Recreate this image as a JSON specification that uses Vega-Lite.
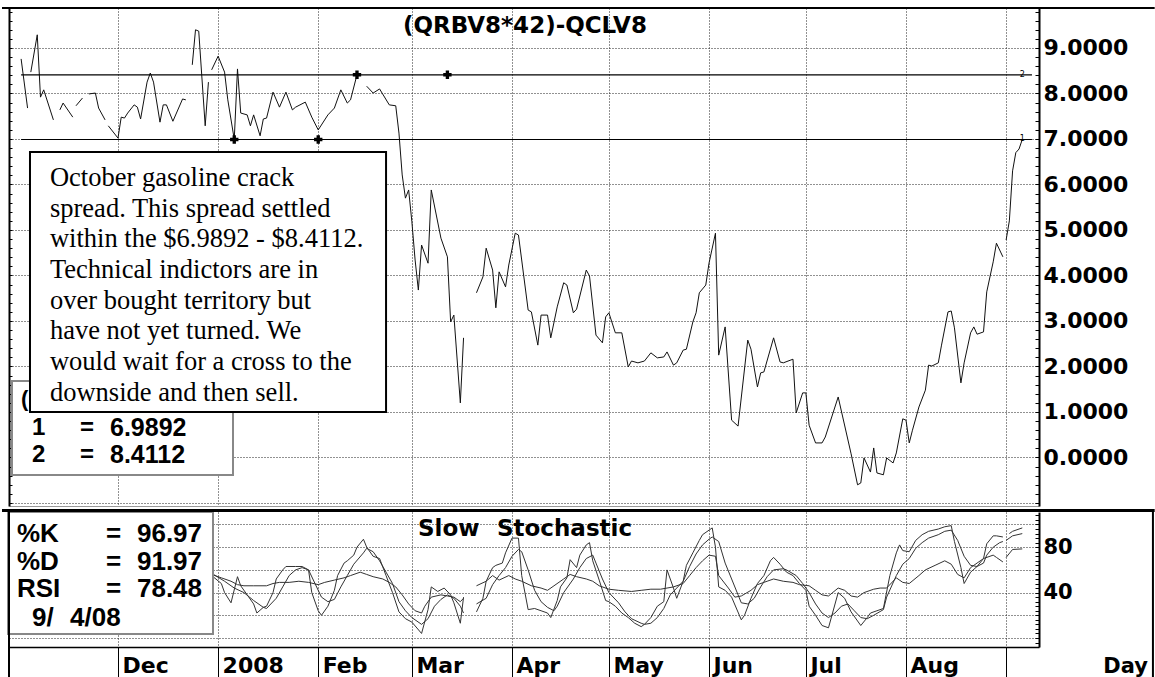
{
"$schema": "https://vega.github.io/schema/vega-lite/v6.json",
"background": "white",
"padding": {"left": 0, "top": 7, "right": 0, "bottom": 0},
"spacing": 3,
"config": {"view": {"stroke": null}, "axis": {"gridColor": "#222", "gridDash": [1, 2], "gridWidth": 1}},
"datasets": {
"price": [
{"d":"2007-11-01","v":8.76,"g":1},{"d":"2007-11-03","v":7.68,"g":1},
{"d":"2007-11-04","v":8.47,"g":2},{"d":"2007-11-06","v":9.29,"g":2},{"d":"2007-11-07","v":7.92,"g":2},{"d":"2007-11-08","v":8.08,"g":2},{"d":"2007-11-11","v":7.42,"g":2},
{"d":"2007-11-13","v":7.64,"g":3},{"d":"2007-11-14","v":7.79,"g":3},{"d":"2007-11-17","v":7.48,"g":3},
{"d":"2007-11-18","v":7.73,"g":4},{"d":"2007-11-20","v":7.9,"g":4},
{"d":"2007-11-22","v":7.99,"g":5},{"d":"2007-11-24","v":8.01,"g":5},{"d":"2007-11-25","v":7.68,"g":5},{"d":"2007-11-27","v":7.42,"g":5},
{"d":"2007-11-28","v":7.29,"g":6},{"d":"2007-12-01","v":7.02,"g":6},{"d":"2007-12-02","v":7.48,"g":6},{"d":"2007-12-03","v":7.46,"g":6},{"d":"2007-12-04","v":7.57,"g":6},{"d":"2007-12-06","v":7.75,"g":6},{"d":"2007-12-07","v":7.7,"g":6},{"d":"2007-12-08","v":7.44,"g":6},{"d":"2007-12-10","v":8.25,"g":6},{"d":"2007-12-11","v":8.45,"g":6},{"d":"2007-12-12","v":8.25,"g":6},{"d":"2007-12-14","v":7.37,"g":6},{"d":"2007-12-15","v":7.75,"g":6},{"d":"2007-12-16","v":7.75,"g":6},{"d":"2007-12-18","v":7.39,"g":6},{"d":"2007-12-21","v":7.88,"g":6},{"d":"2007-12-22","v":7.86,"g":6},
{"d":"2007-12-24","v":8.63,"g":7},{"d":"2007-12-25","v":9.4,"g":7},{"d":"2007-12-26","v":9.37,"g":7},{"d":"2007-12-28","v":7.29,"g":7},{"d":"2007-12-29","v":8.25,"g":7},
{"d":"2007-12-30","v":8.52,"g":8},{"d":"2008-01-01","v":8.82,"g":8},{"d":"2008-01-03","v":8.47,"g":8},{"d":"2008-01-04","v":7.86,"g":8},{"d":"2008-01-06","v":6.99,"g":8},{"d":"2008-01-07","v":8.54,"g":8},{"d":"2008-01-08","v":7.57,"g":8},{"d":"2008-01-10","v":7.53,"g":8},{"d":"2008-01-11","v":7.29,"g":8},{"d":"2008-01-12","v":7.53,"g":8},{"d":"2008-01-14","v":7.07,"g":8},{"d":"2008-01-15","v":7.44,"g":8},{"d":"2008-01-16","v":7.46,"g":8},{"d":"2008-01-18","v":8.03,"g":8},{"d":"2008-01-20","v":7.7,"g":8},{"d":"2008-01-22","v":8.03,"g":8},{"d":"2008-01-24","v":7.64,"g":8},{"d":"2008-01-25","v":7.7,"g":8},{"d":"2008-01-28","v":7.81,"g":8},{"d":"2008-01-30","v":7.48,"g":8},{"d":"2008-02-01","v":7.2,"g":8},{"d":"2008-02-04","v":7.53,"g":8},{"d":"2008-02-06","v":7.68,"g":8},{"d":"2008-02-08","v":8.08,"g":8},{"d":"2008-02-10","v":7.79,"g":8},{"d":"2008-02-11","v":7.86,"g":8},{"d":"2008-02-13","v":8.41,"g":8},
{"d":"2008-02-16","v":8.16,"g":9},{"d":"2008-02-18","v":8.01,"g":9},{"d":"2008-02-20","v":8.1,"g":9},{"d":"2008-02-23","v":7.75,"g":9},{"d":"2008-02-25","v":7.73,"g":9},{"d":"2008-02-26","v":7.13,"g":9},{"d":"2008-02-27","v":6.21,"g":9},{"d":"2008-02-28","v":5.7,"g":9},{"d":"2008-02-29","v":5.88,"g":9},{"d":"2008-03-01","v":5.18,"g":9},{"d":"2008-03-02","v":4.34,"g":9},{"d":"2008-03-03","v":3.68,"g":9},{"d":"2008-03-04","v":4.67,"g":9},{"d":"2008-03-06","v":4.27,"g":9},{"d":"2008-03-07","v":5.88,"g":9},{"d":"2008-03-10","v":4.82,"g":9},{"d":"2008-03-12","v":4.41,"g":9},{"d":"2008-03-13","v":2.98,"g":9},{"d":"2008-03-14","v":3.13,"g":9},{"d":"2008-03-16","v":1.2,"g":9},{"d":"2008-03-17","v":2.63,"g":9},
{"d":"2008-03-21","v":3.62,"g":10},{"d":"2008-03-23","v":3.97,"g":10},{"d":"2008-03-24","v":4.6,"g":10},{"d":"2008-03-26","v":4.12,"g":10},{"d":"2008-03-27","v":3.29,"g":10},{"d":"2008-03-28","v":4.08,"g":10},{"d":"2008-03-30","v":3.75,"g":10},{"d":"2008-03-31","v":4.23,"g":10},{"d":"2008-04-02","v":4.93,"g":10},{"d":"2008-04-03","v":4.89,"g":10},{"d":"2008-04-06","v":3.24,"g":10},{"d":"2008-04-07","v":3.2,"g":10},{"d":"2008-04-09","v":2.47,"g":10},{"d":"2008-04-10","v":3.13,"g":10},{"d":"2008-04-12","v":3.13,"g":10},{"d":"2008-04-13","v":2.63,"g":10},{"d":"2008-04-15","v":3.31,"g":10},{"d":"2008-04-17","v":3.84,"g":10},{"d":"2008-04-18","v":3.79,"g":10},{"d":"2008-04-20","v":3.18,"g":10},{"d":"2008-04-21","v":3.26,"g":10},{"d":"2008-04-24","v":4.12,"g":10},{"d":"2008-04-25","v":3.99,"g":10},{"d":"2008-04-27","v":2.69,"g":10},{"d":"2008-04-29","v":2.52,"g":10},{"d":"2008-04-30","v":3.09,"g":10},{"d":"2008-05-01","v":3.18,"g":10},{"d":"2008-05-03","v":2.74,"g":10},{"d":"2008-05-05","v":2.74,"g":10},{"d":"2008-05-07","v":1.99,"g":10},{"d":"2008-05-08","v":2.12,"g":10},{"d":"2008-05-10","v":2.08,"g":10},{"d":"2008-05-12","v":2.12,"g":10},{"d":"2008-05-14","v":2.3,"g":10},{"d":"2008-05-16","v":2.19,"g":10},{"d":"2008-05-18","v":2.21,"g":10},{"d":"2008-05-19","v":2.32,"g":10},{"d":"2008-05-21","v":2.03,"g":10},{"d":"2008-05-22","v":2.08,"g":10},{"d":"2008-05-24","v":2.36,"g":10},{"d":"2008-05-25","v":2.38,"g":10},{"d":"2008-05-27","v":2.98,"g":10},{"d":"2008-05-28","v":3.18,"g":10},{"d":"2008-05-29","v":3.62,"g":10},{"d":"2008-05-31","v":3.79,"g":10},{"d":"2008-06-01","v":4.27,"g":10},{"d":"2008-06-03","v":4.93,"g":10},{"d":"2008-06-04","v":2.25,"g":10},{"d":"2008-06-06","v":2.87,"g":10},{"d":"2008-06-08","v":0.82,"g":10},{"d":"2008-06-10","v":0.69,"g":10},{"d":"2008-06-13","v":2.58,"g":10},{"d":"2008-06-14","v":2.38,"g":10},{"d":"2008-06-16","v":1.55,"g":10},{"d":"2008-06-17","v":1.86,"g":10},{"d":"2008-06-18","v":1.88,"g":10},{"d":"2008-06-21","v":2.63,"g":10},{"d":"2008-06-23","v":2.1,"g":10},{"d":"2008-06-24","v":2.08,"g":10},{"d":"2008-06-27","v":2.16,"g":10},{"d":"2008-06-28","v":0.98,"g":10},{"d":"2008-06-30","v":1.42,"g":10},{"d":"2008-07-01","v":1.42,"g":10},{"d":"2008-07-02","v":0.71,"g":10},{"d":"2008-07-04","v":0.32,"g":10},{"d":"2008-07-06","v":0.32,"g":10},{"d":"2008-07-07","v":0.45,"g":10},{"d":"2008-07-11","v":1.33,"g":10},{"d":"2008-07-15","v":0.08,"g":10},{"d":"2008-07-17","v":-0.6,"g":10},{"d":"2008-07-18","v":-0.56,"g":10},{"d":"2008-07-19","v":-0.01,"g":10},{"d":"2008-07-21","v":-0.32,"g":10},{"d":"2008-07-22","v":0.21,"g":10},{"d":"2008-07-23","v":-0.34,"g":10},{"d":"2008-07-25","v":-0.38,"g":10},{"d":"2008-07-26","v":-0.01,"g":10},{"d":"2008-07-28","v":-0.12,"g":10},{"d":"2008-07-29","v":0.1,"g":10},{"d":"2008-07-31","v":0.85,"g":10},{"d":"2008-08-01","v":0.82,"g":10},{"d":"2008-08-02","v":0.32,"g":10},{"d":"2008-08-03","v":0.6,"g":10},{"d":"2008-08-05","v":1.11,"g":10},{"d":"2008-08-07","v":1.48,"g":10},{"d":"2008-08-08","v":2.03,"g":10},{"d":"2008-08-09","v":2.01,"g":10},{"d":"2008-08-11","v":2.08,"g":10},{"d":"2008-08-12","v":2.47,"g":10},{"d":"2008-08-14","v":3.2,"g":10},{"d":"2008-08-15","v":3.22,"g":10},{"d":"2008-08-16","v":2.85,"g":10},{"d":"2008-08-18","v":1.64,"g":10},{"d":"2008-08-19","v":2.08,"g":10},{"d":"2008-08-21","v":2.74,"g":10},{"d":"2008-08-22","v":2.87,"g":10},{"d":"2008-08-23","v":2.71,"g":10},{"d":"2008-08-25","v":2.76,"g":10},{"d":"2008-08-26","v":3.64,"g":10},{"d":"2008-08-28","v":4.3,"g":10},{"d":"2008-08-29","v":4.71,"g":10},{"d":"2008-08-31","v":4.41,"g":10},
{"d":"2008-09-01","v":4.78,"g":11},{"d":"2008-09-02","v":5.2,"g":11},{"d":"2008-09-03","v":6.3,"g":11},{"d":"2008-09-04","v":6.7,"g":11},{"d":"2008-09-05","v":6.78,"g":11},{"d":"2008-09-06","v":6.99,"g":11}
],
"stoch": [
{"d":"2007-12-30","s":"K","v":55,"g":1},{"d":"2008-01-02","s":"K","v":48,"g":1},{"d":"2008-01-03","s":"K","v":40,"g":1},{"d":"2008-01-05","s":"K","v":31,"g":1},{"d":"2008-01-07","s":"K","v":54,"g":1},{"d":"2008-01-08","s":"K","v":46,"g":1},{"d":"2008-01-10","s":"K","v":38,"g":1},{"d":"2008-01-12","s":"K","v":30,"g":1},{"d":"2008-01-13","s":"K","v":22,"g":1},{"d":"2008-01-15","s":"K","v":27,"g":1},{"d":"2008-01-16","s":"K","v":28,"g":1},{"d":"2008-01-18","s":"K","v":40,"g":1},{"d":"2008-01-19","s":"K","v":52,"g":1},{"d":"2008-01-21","s":"K","v":60,"g":1},{"d":"2008-01-22","s":"K","v":63,"g":1},{"d":"2008-01-25","s":"K","v":63,"g":1},{"d":"2008-01-27","s":"K","v":63,"g":1},{"d":"2008-01-29","s":"K","v":60,"g":1},{"d":"2008-01-30","s":"K","v":40,"g":1},{"d":"2008-02-01","s":"K","v":24,"g":1},{"d":"2008-02-02","s":"K","v":20,"g":1},{"d":"2008-02-04","s":"K","v":28,"g":1},{"d":"2008-02-06","s":"K","v":42,"g":1},{"d":"2008-02-07","s":"K","v":55,"g":1},{"d":"2008-02-09","s":"K","v":66,"g":1},{"d":"2008-02-10","s":"K","v":68,"g":1},{"d":"2008-02-12","s":"K","v":73,"g":1},{"d":"2008-02-13","s":"K","v":80,"g":1},{"d":"2008-02-15","s":"K","v":87,"g":1},{"d":"2008-02-16","s":"K","v":80,"g":1},{"d":"2008-02-18","s":"K","v":72,"g":1},{"d":"2008-02-20","s":"K","v":70,"g":1},{"d":"2008-02-22","s":"K","v":55,"g":1},{"d":"2008-02-24","s":"K","v":40,"g":1},{"d":"2008-02-26","s":"K","v":23,"g":1},{"d":"2008-02-28","s":"K","v":17,"g":1},{"d":"2008-03-01","s":"K","v":14,"g":1},{"d":"2008-03-04","s":"K","v":4,"g":1},{"d":"2008-03-06","s":"K","v":25,"g":1},{"d":"2008-03-07","s":"K","v":45,"g":1},{"d":"2008-03-09","s":"K","v":41,"g":1},{"d":"2008-03-11","s":"K","v":44,"g":1},{"d":"2008-03-13","s":"K","v":38,"g":1},{"d":"2008-03-14","s":"K","v":31,"g":1},{"d":"2008-03-16","s":"K","v":13,"g":1},{"d":"2008-03-17","s":"K","v":36,"g":1},
{"d":"2008-03-21","s":"K","v":23,"g":2},{"d":"2008-03-23","s":"K","v":35,"g":2},{"d":"2008-03-24","s":"K","v":50,"g":2},{"d":"2008-03-26","s":"K","v":62,"g":2},{"d":"2008-03-27","s":"K","v":64,"g":2},{"d":"2008-03-29","s":"K","v":66,"g":2},{"d":"2008-03-30","s":"K","v":75,"g":2},{"d":"2008-04-01","s":"K","v":88,"g":2},{"d":"2008-04-03","s":"K","v":88,"g":2},{"d":"2008-04-04","s":"K","v":55,"g":2},{"d":"2008-04-06","s":"K","v":25,"g":2},{"d":"2008-04-08","s":"K","v":26,"g":2},{"d":"2008-04-10","s":"K","v":24,"g":2},{"d":"2008-04-12","s":"K","v":22,"g":2},{"d":"2008-04-13","s":"K","v":18,"g":2},{"d":"2008-04-15","s":"K","v":33,"g":2},{"d":"2008-04-16","s":"K","v":45,"g":2},{"d":"2008-04-18","s":"K","v":53,"g":2},{"d":"2008-04-19","s":"K","v":69,"g":2},{"d":"2008-04-21","s":"K","v":62,"g":2},{"d":"2008-04-22","s":"K","v":73,"g":2},{"d":"2008-04-24","s":"K","v":82,"g":2},{"d":"2008-04-25","s":"K","v":84,"g":2},{"d":"2008-04-26","s":"K","v":68,"g":2},{"d":"2008-04-28","s":"K","v":51,"g":2},{"d":"2008-04-30","s":"K","v":33,"g":2},{"d":"2008-05-01","s":"K","v":32,"g":2},{"d":"2008-05-03","s":"K","v":28,"g":2},{"d":"2008-05-05","s":"K","v":22,"g":2},{"d":"2008-05-07","s":"K","v":18,"g":2},{"d":"2008-05-09","s":"K","v":13,"g":2},{"d":"2008-05-11","s":"K","v":10,"g":2},{"d":"2008-05-12","s":"K","v":12,"g":2},{"d":"2008-05-14","s":"K","v":18,"g":2},{"d":"2008-05-16","s":"K","v":28,"g":2},{"d":"2008-05-18","s":"K","v":32,"g":2},{"d":"2008-05-19","s":"K","v":60,"g":2},{"d":"2008-05-21","s":"K","v":44,"g":2},{"d":"2008-05-22","s":"K","v":35,"g":2},{"d":"2008-05-24","s":"K","v":50,"g":2},{"d":"2008-05-25","s":"K","v":64,"g":2},{"d":"2008-05-27","s":"K","v":75,"g":2},{"d":"2008-05-29","s":"K","v":86,"g":2},{"d":"2008-05-30","s":"K","v":91,"g":2},{"d":"2008-06-01","s":"K","v":95,"g":2},{"d":"2008-06-02","s":"K","v":97,"g":2},{"d":"2008-06-03","s":"K","v":80,"g":2},{"d":"2008-06-04","s":"K","v":45,"g":2},{"d":"2008-06-06","s":"K","v":42,"g":2},{"d":"2008-06-08","s":"K","v":36,"g":2},{"d":"2008-06-11","s":"K","v":16,"g":2},{"d":"2008-06-12","s":"K","v":20,"g":2},{"d":"2008-06-14","s":"K","v":35,"g":2},{"d":"2008-06-16","s":"K","v":48,"g":2},{"d":"2008-06-18","s":"K","v":55,"g":2},{"d":"2008-06-20","s":"K","v":68,"g":2},{"d":"2008-06-21","s":"K","v":71,"g":2},{"d":"2008-06-23","s":"K","v":65,"g":2},{"d":"2008-06-25","s":"K","v":58,"g":2},{"d":"2008-06-27","s":"K","v":55,"g":2},{"d":"2008-06-29","s":"K","v":48,"g":2},{"d":"2008-07-01","s":"K","v":42,"g":2},{"d":"2008-07-02","s":"K","v":28,"g":2},{"d":"2008-07-04","s":"K","v":20,"g":2},{"d":"2008-07-06","s":"K","v":11,"g":2},{"d":"2008-07-08","s":"K","v":9,"g":2},{"d":"2008-07-11","s":"K","v":40,"g":2},{"d":"2008-07-13","s":"K","v":35,"g":2},{"d":"2008-07-15","s":"K","v":23,"g":2},{"d":"2008-07-17","s":"K","v":15,"g":2},{"d":"2008-07-18","s":"K","v":11,"g":2},{"d":"2008-07-20","s":"K","v":18,"g":2},{"d":"2008-07-21","s":"K","v":22,"g":2},{"d":"2008-07-23","s":"K","v":24,"g":2},{"d":"2008-07-25","s":"K","v":26,"g":2},{"d":"2008-07-27","s":"K","v":55,"g":2},{"d":"2008-07-29","s":"K","v":75,"g":2},{"d":"2008-07-30","s":"K","v":82,"g":2},{"d":"2008-07-31","s":"K","v":77,"g":2},{"d":"2008-08-02","s":"K","v":76,"g":2},{"d":"2008-08-04","s":"K","v":86,"g":2},{"d":"2008-08-06","s":"K","v":91,"g":2},{"d":"2008-08-08","s":"K","v":94,"g":2},{"d":"2008-08-11","s":"K","v":96,"g":2},{"d":"2008-08-13","s":"K","v":98,"g":2},{"d":"2008-08-15","s":"K","v":99,"g":2},{"d":"2008-08-16","s":"K","v":85,"g":2},{"d":"2008-08-18","s":"K","v":62,"g":2},{"d":"2008-08-19","s":"K","v":48,"g":2},{"d":"2008-08-21","s":"K","v":58,"g":2},{"d":"2008-08-23","s":"K","v":63,"g":2},{"d":"2008-08-25","s":"K","v":70,"g":2},{"d":"2008-08-26","s":"K","v":83,"g":2},{"d":"2008-08-28","s":"K","v":90,"g":2},{"d":"2008-08-29","s":"K","v":90,"g":2},{"d":"2008-08-31","s":"K","v":89,"g":2},
{"d":"2008-09-02","s":"K","v":92,"g":3},{"d":"2008-09-03","s":"K","v":94,"g":3},{"d":"2008-09-05","s":"K","v":96,"g":3},{"d":"2008-09-06","s":"K","v":96.97,"g":3},
{"d":"2007-12-30","s":"D","v":57,"g":1},{"d":"2008-01-03","s":"D","v":50,"g":1},{"d":"2008-01-06","s":"D","v":44,"g":1},{"d":"2008-01-09","s":"D","v":40,"g":1},{"d":"2008-01-12","s":"D","v":33,"g":1},{"d":"2008-01-15","s":"D","v":27,"g":1},{"d":"2008-01-16","s":"D","v":26,"g":1},{"d":"2008-01-19","s":"D","v":35,"g":1},{"d":"2008-01-21","s":"D","v":45,"g":1},{"d":"2008-01-23","s":"D","v":55,"g":1},{"d":"2008-01-25","s":"D","v":60,"g":1},{"d":"2008-01-27","s":"D","v":62,"g":1},{"d":"2008-01-29","s":"D","v":60,"g":1},{"d":"2008-01-31","s":"D","v":48,"g":1},{"d":"2008-02-02","s":"D","v":36,"g":1},{"d":"2008-02-04","s":"D","v":32,"g":1},{"d":"2008-02-06","s":"D","v":34,"g":1},{"d":"2008-02-08","s":"D","v":45,"g":1},{"d":"2008-02-10","s":"D","v":55,"g":1},{"d":"2008-02-12","s":"D","v":65,"g":1},{"d":"2008-02-15","s":"D","v":75,"g":1},{"d":"2008-02-16","s":"D","v":79,"g":1},{"d":"2008-02-18","s":"D","v":76,"g":1},{"d":"2008-02-20","s":"D","v":68,"g":1},{"d":"2008-02-22","s":"D","v":58,"g":1},{"d":"2008-02-24","s":"D","v":48,"g":1},{"d":"2008-02-26","s":"D","v":32,"g":1},{"d":"2008-02-28","s":"D","v":24,"g":1},{"d":"2008-03-01","s":"D","v":18,"g":1},{"d":"2008-03-04","s":"D","v":12,"g":1},{"d":"2008-03-06","s":"D","v":17,"g":1},{"d":"2008-03-08","s":"D","v":28,"g":1},{"d":"2008-03-10","s":"D","v":34,"g":1},{"d":"2008-03-12","s":"D","v":38,"g":1},{"d":"2008-03-14","s":"D","v":35,"g":1},{"d":"2008-03-16","s":"D","v":28,"g":1},{"d":"2008-03-17","s":"D","v":22,"g":1},
{"d":"2008-03-21","s":"D","v":30,"g":2},{"d":"2008-03-24","s":"D","v":35,"g":2},{"d":"2008-03-26","s":"D","v":47,"g":2},{"d":"2008-03-28","s":"D","v":55,"g":2},{"d":"2008-03-30","s":"D","v":62,"g":2},{"d":"2008-04-01","s":"D","v":72,"g":2},{"d":"2008-04-03","s":"D","v":78,"g":2},{"d":"2008-04-04","s":"D","v":76,"g":2},{"d":"2008-04-06","s":"D","v":60,"g":2},{"d":"2008-04-08","s":"D","v":42,"g":2},{"d":"2008-04-10","s":"D","v":32,"g":2},{"d":"2008-04-12","s":"D","v":27,"g":2},{"d":"2008-04-14","s":"D","v":24,"g":2},{"d":"2008-04-15","s":"D","v":28,"g":2},{"d":"2008-04-17","s":"D","v":40,"g":2},{"d":"2008-04-20","s":"D","v":52,"g":2},{"d":"2008-04-22","s":"D","v":62,"g":2},{"d":"2008-04-24","s":"D","v":70,"g":2},{"d":"2008-04-26","s":"D","v":73,"g":2},{"d":"2008-04-27","s":"D","v":66,"g":2},{"d":"2008-04-29","s":"D","v":52,"g":2},{"d":"2008-05-01","s":"D","v":40,"g":2},{"d":"2008-05-04","s":"D","v":31,"g":2},{"d":"2008-05-06","s":"D","v":23,"g":2},{"d":"2008-05-08","s":"D","v":17,"g":2},{"d":"2008-05-11","s":"D","v":13,"g":2},{"d":"2008-05-12","s":"D","v":12,"g":2},{"d":"2008-05-14","s":"D","v":13,"g":2},{"d":"2008-05-16","s":"D","v":18,"g":2},{"d":"2008-05-18","s":"D","v":26,"g":2},{"d":"2008-05-20","s":"D","v":38,"g":2},{"d":"2008-05-22","s":"D","v":44,"g":2},{"d":"2008-05-24","s":"D","v":50,"g":2},{"d":"2008-05-26","s":"D","v":63,"g":2},{"d":"2008-05-28","s":"D","v":74,"g":2},{"d":"2008-05-30","s":"D","v":82,"g":2},{"d":"2008-06-01","s":"D","v":87,"g":2},{"d":"2008-06-02","s":"D","v":89,"g":2},{"d":"2008-06-04","s":"D","v":85,"g":2},{"d":"2008-06-06","s":"D","v":66,"g":2},{"d":"2008-06-08","s":"D","v":52,"g":2},{"d":"2008-06-10","s":"D","v":38,"g":2},{"d":"2008-06-11","s":"D","v":31,"g":2},{"d":"2008-06-13","s":"D","v":30,"g":2},{"d":"2008-06-15","s":"D","v":35,"g":2},{"d":"2008-06-17","s":"D","v":45,"g":2},{"d":"2008-06-19","s":"D","v":54,"g":2},{"d":"2008-06-21","s":"D","v":60,"g":2},{"d":"2008-06-24","s":"D","v":61,"g":2},{"d":"2008-06-25","s":"D","v":60,"g":2},{"d":"2008-06-28","s":"D","v":55,"g":2},{"d":"2008-06-30","s":"D","v":48,"g":2},{"d":"2008-07-02","s":"D","v":40,"g":2},{"d":"2008-07-04","s":"D","v":30,"g":2},{"d":"2008-07-06","s":"D","v":22,"g":2},{"d":"2008-07-08","s":"D","v":18,"g":2},{"d":"2008-07-10","s":"D","v":22,"g":2},{"d":"2008-07-12","s":"D","v":28,"g":2},{"d":"2008-07-14","s":"D","v":30,"g":2},{"d":"2008-07-16","s":"D","v":24,"g":2},{"d":"2008-07-18","s":"D","v":18,"g":2},{"d":"2008-07-20","s":"D","v":17,"g":2},{"d":"2008-07-22","s":"D","v":20,"g":2},{"d":"2008-07-25","s":"D","v":25,"g":2},{"d":"2008-07-26","s":"D","v":36,"g":2},{"d":"2008-07-29","s":"D","v":55,"g":2},{"d":"2008-07-31","s":"D","v":65,"g":2},{"d":"2008-08-02","s":"D","v":70,"g":2},{"d":"2008-08-04","s":"D","v":79,"g":2},{"d":"2008-08-06","s":"D","v":84,"g":2},{"d":"2008-08-08","s":"D","v":88,"g":2},{"d":"2008-08-11","s":"D","v":91,"g":2},{"d":"2008-08-13","s":"D","v":94,"g":2},{"d":"2008-08-15","s":"D","v":95,"g":2},{"d":"2008-08-17","s":"D","v":86,"g":2},{"d":"2008-08-19","s":"D","v":72,"g":2},{"d":"2008-08-21","s":"D","v":64,"g":2},{"d":"2008-08-23","s":"D","v":63,"g":2},{"d":"2008-08-25","s":"D","v":66,"g":2},{"d":"2008-08-26","s":"D","v":73,"g":2},{"d":"2008-08-28","s":"D","v":80,"g":2},{"d":"2008-08-30","s":"D","v":84,"g":2},{"d":"2008-08-31","s":"D","v":85,"g":2},
{"d":"2008-09-01","s":"D","v":86,"g":3},{"d":"2008-09-03","s":"D","v":90,"g":3},{"d":"2008-09-06","s":"D","v":91.97,"g":3},
{"d":"2007-12-30","s":"R","v":56,"g":1},{"d":"2008-01-02","s":"R","v":53,"g":1},{"d":"2008-01-05","s":"R","v":50,"g":1},{"d":"2008-01-07","s":"R","v":47,"g":1},{"d":"2008-01-09","s":"R","v":46,"g":1},{"d":"2008-01-12","s":"R","v":46,"g":1},{"d":"2008-01-16","s":"R","v":46,"g":1},{"d":"2008-01-18","s":"R","v":48,"g":1},{"d":"2008-01-20","s":"R","v":49,"g":1},{"d":"2008-01-23","s":"R","v":49,"g":1},{"d":"2008-01-26","s":"R","v":50,"g":1},{"d":"2008-01-29","s":"R","v":49,"g":1},{"d":"2008-02-01","s":"R","v":47,"g":1},{"d":"2008-02-03","s":"R","v":49,"g":1},{"d":"2008-02-06","s":"R","v":51,"g":1},{"d":"2008-02-09","s":"R","v":53,"g":1},{"d":"2008-02-11","s":"R","v":55,"g":1},{"d":"2008-02-14","s":"R","v":58,"g":1},{"d":"2008-02-16","s":"R","v":56,"g":1},{"d":"2008-02-18","s":"R","v":54,"g":1},{"d":"2008-02-21","s":"R","v":52,"g":1},{"d":"2008-02-23","s":"R","v":49,"g":1},{"d":"2008-02-25","s":"R","v":45,"g":1},{"d":"2008-02-27","s":"R","v":38,"g":1},{"d":"2008-02-29","s":"R","v":30,"g":1},{"d":"2008-03-02","s":"R","v":24,"g":1},{"d":"2008-03-04","s":"R","v":22,"g":1},{"d":"2008-03-05","s":"R","v":28,"g":1},{"d":"2008-03-07","s":"R","v":36,"g":1},{"d":"2008-03-10","s":"R","v":38,"g":1},{"d":"2008-03-12","s":"R","v":37,"g":1},{"d":"2008-03-14","s":"R","v":36,"g":1},{"d":"2008-03-16","s":"R","v":32,"g":1},{"d":"2008-03-17","s":"R","v":35,"g":1},
{"d":"2008-03-21","s":"R","v":46,"g":2},{"d":"2008-03-24","s":"R","v":50,"g":2},{"d":"2008-03-26","s":"R","v":55,"g":2},{"d":"2008-03-28","s":"R","v":51,"g":2},{"d":"2008-03-31","s":"R","v":55,"g":2},{"d":"2008-04-02","s":"R","v":52,"g":2},{"d":"2008-04-04","s":"R","v":50,"g":2},{"d":"2008-04-07","s":"R","v":46,"g":2},{"d":"2008-04-10","s":"R","v":44,"g":2},{"d":"2008-04-12","s":"R","v":42,"g":2},{"d":"2008-04-14","s":"R","v":46,"g":2},{"d":"2008-04-17","s":"R","v":52,"g":2},{"d":"2008-04-19","s":"R","v":56,"g":2},{"d":"2008-04-21","s":"R","v":54,"g":2},{"d":"2008-04-24","s":"R","v":52,"g":2},{"d":"2008-04-26","s":"R","v":50,"g":2},{"d":"2008-04-28","s":"R","v":46,"g":2},{"d":"2008-05-01","s":"R","v":43,"g":2},{"d":"2008-05-04","s":"R","v":42,"g":2},{"d":"2008-05-08","s":"R","v":41,"g":2},{"d":"2008-05-11","s":"R","v":42,"g":2},{"d":"2008-05-14","s":"R","v":43,"g":2},{"d":"2008-05-17","s":"R","v":43,"g":2},{"d":"2008-05-19","s":"R","v":44,"g":2},{"d":"2008-05-21","s":"R","v":45,"g":2},{"d":"2008-05-24","s":"R","v":48,"g":2},{"d":"2008-05-26","s":"R","v":55,"g":2},{"d":"2008-05-28","s":"R","v":62,"g":2},{"d":"2008-05-30","s":"R","v":68,"g":2},{"d":"2008-06-01","s":"R","v":73,"g":2},{"d":"2008-06-03","s":"R","v":72,"g":2},{"d":"2008-06-04","s":"R","v":55,"g":2},{"d":"2008-06-07","s":"R","v":44,"g":2},{"d":"2008-06-09","s":"R","v":36,"g":2},{"d":"2008-06-11","s":"R","v":37,"g":2},{"d":"2008-06-14","s":"R","v":42,"g":2},{"d":"2008-06-16","s":"R","v":47,"g":2},{"d":"2008-06-19","s":"R","v":50,"g":2},{"d":"2008-06-21","s":"R","v":52,"g":2},{"d":"2008-06-24","s":"R","v":50,"g":2},{"d":"2008-06-27","s":"R","v":49,"g":2},{"d":"2008-06-29","s":"R","v":47,"g":2},{"d":"2008-07-02","s":"R","v":46,"g":2},{"d":"2008-07-04","s":"R","v":42,"g":2},{"d":"2008-07-06","s":"R","v":38,"g":2},{"d":"2008-07-08","s":"R","v":37,"g":2},{"d":"2008-07-11","s":"R","v":44,"g":2},{"d":"2008-07-13","s":"R","v":42,"g":2},{"d":"2008-07-15","s":"R","v":37,"g":2},{"d":"2008-07-17","s":"R","v":36,"g":2},{"d":"2008-07-19","s":"R","v":40,"g":2},{"d":"2008-07-22","s":"R","v":43,"g":2},{"d":"2008-07-24","s":"R","v":44,"g":2},{"d":"2008-07-26","s":"R","v":44,"g":2},{"d":"2008-07-29","s":"R","v":53,"g":2},{"d":"2008-07-31","s":"R","v":49,"g":2},{"d":"2008-08-02","s":"R","v":48,"g":2},{"d":"2008-08-05","s":"R","v":55,"g":2},{"d":"2008-08-07","s":"R","v":60,"g":2},{"d":"2008-08-10","s":"R","v":64,"g":2},{"d":"2008-08-13","s":"R","v":68,"g":2},{"d":"2008-08-15","s":"R","v":65,"g":2},{"d":"2008-08-17","s":"R","v":56,"g":2},{"d":"2008-08-19","s":"R","v":53,"g":2},{"d":"2008-08-21","s":"R","v":62,"g":2},{"d":"2008-08-23","s":"R","v":66,"g":2},{"d":"2008-08-25","s":"R","v":70,"g":2},{"d":"2008-08-28","s":"R","v":73,"g":2},{"d":"2008-08-29","s":"R","v":71,"g":2},{"d":"2008-08-31","s":"R","v":67,"g":2},
{"d":"2008-09-01","s":"R","v":71,"g":3},{"d":"2008-09-03","s":"R","v":78,"g":3},{"d":"2008-09-06","s":"R","v":78.48,"g":3}
],
"levels": [{"k":"1","v":6.9892,"d1":"2007-11-01","d2":"2008-09-09"},{"k":"2","v":8.4112,"d1":"2007-11-01","d2":"2008-09-09"}],
"touches": [{"d":"2008-01-06","v":6.9892},{"d":"2008-02-01","v":6.9892},{"d":"2008-02-13","v":8.4112},{"d":"2008-03-12","v":8.4112}]
},
"vconcat": [
{
"width": 1030, "height": 498,
"resolve": {"axis": {"x": "independent", "y": "independent"}},
"layer": [
{"data": {"name": "price"},
 "mark": {"type": "line", "color": "#111", "strokeWidth": 1},
 "encoding": {
  "x": {"field": "d", "type": "temporal", "title": null,
   "scale": {"domain": [{"year":2007,"month":10,"date":28,"hours":6},{"year":2008,"month":9,"date":11,"hours":4,"minutes":20}], "nice": false},
   "axis": {"orient": "bottom", "values": [{"year":2007,"month":12,"date":1},{"year":2008,"month":1,"date":1},{"year":2008,"month":2,"date":1},{"year":2008,"month":3,"date":1},{"year":2008,"month":4,"date":1},{"year":2008,"month":5,"date":1},{"year":2008,"month":6,"date":1},{"year":2008,"month":7,"date":1},{"year":2008,"month":8,"date":1},{"year":2008,"month":9,"date":1}],
     "grid": true, "labels": false, "ticks": false, "domain": true, "domainColor": "#999", "domainWidth": 1, "title": null}},
  "y": {"field": "v", "type": "quantitative", "title": null,
   "scale": {"domain": [-1.066, 9.879], "nice": false, "zero": false},
   "axis": {"orient": "right", "title": null,
     "values": [-1,-0.8,-0.6,-0.4,-0.2,0,0.2,0.4,0.6,0.8,1,1.2,1.4,1.6,1.8,2,2.2,2.4,2.6,2.8,3,3.2,3.4,3.6,3.8,4,4.2,4.4,4.6,4.8,5,5.2,5.4,5.6,5.8,6,6.2,6.4,6.6,6.8,7,7.2,7.4,7.6,7.8,8,8.2,8.4,8.6,8.8,9,9.2,9.4,9.6,9.8],
     "grid": true,
     "gridOpacity": {"condition": {"test": "abs(datum.value - round(datum.value)) < 0.01", "value": 1}, "value": 0},
     "domainColor": "#000", "domainWidth": 2, "tickColor": "#000", "tickSize": -4, "tickWidth": 1,
     "labelPadding": 8, "labelFont": "DejaVu Sans", "labelFontWeight": "bold", "labelFontSize": 22, "labelColor": "#000",
     "labelExpr": "datum.value > -0.5 && abs(datum.value - round(datum.value)) < 0.01 ? format(datum.value, '.4f') : ''"}},
  "detail": {"field": "g"}
 }},
{"data": {"name": "levels"},
 "mark": {"type": "rule", "color": "#000", "strokeWidth": 1.2},
 "encoding": {
  "x": {"field": "d1", "type": "temporal", "title": null, "axis": null},
  "x2": {"field": "d2"},
  "y": {"field": "v", "type": "quantitative", "title": null,
   "axis": {"orient": "left", "title": null, "labels": false, "grid": false,
     "values": [-1,-0.8,-0.6,-0.4,-0.2,0,0.2,0.4,0.6,0.8,1,1.2,1.4,1.6,1.8,2,2.2,2.4,2.6,2.8,3,3.2,3.4,3.6,3.8,4,4.2,4.4,4.6,4.8,5,5.2,5.4,5.6,5.8,6,6.2,6.4,6.6,6.8,7,7.2,7.4,7.6,7.8,8,8.2,8.4,8.6,8.8,9,9.2,9.4,9.6,9.8],
     "domainColor": "#000", "domainWidth": 2, "tickColor": "#000", "tickSize": -3, "tickWidth": 1}}
 }},
{"data": {"name": "touches"},
 "mark": {"type": "point", "shape": "cross", "filled": true, "color": "#000", "size": 70, "opacity": 1},
 "encoding": {
  "x": {"field": "d", "type": "temporal", "axis": null},
  "y": {"field": "v", "type": "quantitative", "axis": null}
 }},
{"data": {"name": "levels"},
 "mark": {"type": "text", "font": "DejaVu Sans", "fontSize": 8, "align": "center", "baseline": "middle", "color": "#000"},
 "encoding": {
  "x": {"datum": {"year":2008,"month":9,"date":6}, "type": "temporal", "axis": null},
  "y": {"field": "v", "type": "quantitative", "axis": null},
  "text": {"field": "k"}
 }},
{"data": {"values": [{}]},
 "mark": {"type": "text", "text": "(QRBV8*42)-QCLV8", "font": "DejaVu Sans", "fontWeight": "bold", "fontSize": 23, "align": "center", "baseline": "middle", "color": "#000"},
 "encoding": {
  "x": {"datum": {"year":2008,"month":4,"date":5}, "type": "temporal", "axis": null},
  "y": {"datum": 9.484, "type": "quantitative", "axis": null}
 }},
{"data": {"values": [{}]},
 "mark": {"type": "rect", "fill": "#fff", "stroke": "#888", "strokeWidth": 2},
 "encoding": {
  "x": {"datum": {"year":2007,"month":10,"date":29,"hours":4,"minutes":20}, "type": "temporal", "axis": null},
  "x2": {"datum": {"year":2008,"month":1,"date":5,"hours":14,"minutes":40}},
  "y": {"datum": 1.68, "type": "quantitative", "axis": null},
  "y2": {"datum": -0.385}
 }},
{"data": {"values": [{}]},
 "mark": {"type": "text", "text": "(", "font": "Liberation Sans", "fontWeight": "bold", "fontSize": 22, "align": "left", "baseline": "alphabetic", "color": "#000"},
 "encoding": {
  "x": {"datum": {"year":2007,"month":11,"date":1}, "type": "temporal", "axis": null},
  "y": {"datum": 1.13, "type": "quantitative", "axis": null}
 }},
{"data": {"values": [{}]},
 "mark": {"type": "text", "text": "1", "font": "Liberation Sans", "fontWeight": "bold", "fontSize": 24, "align": "left", "baseline": "middle", "color": "#000"},
 "encoding": {
  "x": {"datum": {"year":2007,"month":11,"date":4,"hours":9}, "type": "temporal", "axis": null},
  "y": {"datum": 0.648, "type": "quantitative", "axis": null}
 }},
{"data": {"values": [{}]},
 "mark": {"type": "text", "text": "2", "font": "Liberation Sans", "fontWeight": "bold", "fontSize": 24, "align": "left", "baseline": "middle", "color": "#000"},
 "encoding": {
  "x": {"datum": {"year":2007,"month":11,"date":4,"hours":9}, "type": "temporal", "axis": null},
  "y": {"datum": 0.055, "type": "quantitative", "axis": null}
 }},
{"data": {"values": [{}]},
 "mark": {"type": "text", "text": "=", "font": "Liberation Sans", "fontWeight": "bold", "fontSize": 24, "align": "left", "baseline": "middle", "color": "#000"},
 "encoding": {
  "x": {"datum": {"year":2007,"month":11,"date":19,"hours":5,"minutes":30}, "type": "temporal", "axis": null},
  "y": {"datum": 0.648, "type": "quantitative", "axis": null}
 }},
{"data": {"values": [{}]},
 "mark": {"type": "text", "text": "=", "font": "Liberation Sans", "fontWeight": "bold", "fontSize": 24, "align": "left", "baseline": "middle", "color": "#000"},
 "encoding": {
  "x": {"datum": {"year":2007,"month":11,"date":19,"hours":5,"minutes":30}, "type": "temporal", "axis": null},
  "y": {"datum": 0.055, "type": "quantitative", "axis": null}
 }},
{"data": {"values": [{}]},
 "mark": {"type": "text", "text": "6.9892", "font": "Liberation Sans", "fontWeight": "bold", "fontSize": 25, "align": "left", "baseline": "middle", "color": "#000"},
 "encoding": {
  "x": {"datum": {"year":2007,"month":11,"date":28,"hours":12,"minutes":30}, "type": "temporal", "axis": null},
  "y": {"datum": 0.648, "type": "quantitative", "axis": null}
 }},
{"data": {"values": [{}]},
 "mark": {"type": "text", "text": "8.4112", "font": "Liberation Sans", "fontWeight": "bold", "fontSize": 25, "align": "left", "baseline": "middle", "color": "#000"},
 "encoding": {
  "x": {"datum": {"year":2007,"month":11,"date":28,"hours":12,"minutes":30}, "type": "temporal", "axis": null},
  "y": {"datum": 0.055, "type": "quantitative", "axis": null}
 }},
{"data": {"values": [{}]},
 "mark": {"type": "rect", "fill": "#fff", "stroke": "#000", "strokeWidth": 2},
 "encoding": {
  "x": {"datum": {"year":2007,"month":11,"date":3,"hours":18}, "type": "temporal", "axis": null},
  "x2": {"datum": {"year":2008,"month":2,"date":22}},
  "y": {"datum": 6.714, "type": "quantitative", "axis": null},
  "y2": {"datum": 1.0}
 }},
{"data": {"values": [{}]},
 "mark": {"type": "text", "text": ["October gasoline crack", "spread. This spread settled", "within the $6.9892 - $8.4112.", "Technical indictors are in", "over bought territory but", "have not yet turned. We", "would wait for a cross to the", "downside and then sell."],
   "lineHeight": 30.67, "font": "Liberation Serif", "fontSize": 26.5, "align": "left", "baseline": "alphabetic", "color": "#000"},
 "encoding": {
  "x": {"datum": {"year":2007,"month":11,"date":9,"hours":22,"minutes":30}, "type": "temporal", "axis": null},
  "y": {"datum": 5.967, "type": "quantitative", "axis": null}
 }},
{"data": {"values": [{}]},
 "mark": {"type": "rule", "color": "#000", "strokeWidth": 2, "clip": false},
 "encoding": {
  "x": {"datum": {"year":2007,"month":10,"date":26,"hours":2}, "type": "temporal", "axis": null},
  "x2": {"datum": {"year":2008,"month":10,"date":17}},
  "y": {"datum": 9.879, "type": "quantitative", "axis": null}
 }}
]
},
{
"width": 1030, "height": 135,
"resolve": {"axis": {"x": "independent", "y": "independent"}},
"layer": [
{"data": {"name": "stoch"},
 "mark": {"type": "line", "color": "#333", "strokeWidth": 1},
 "encoding": {
  "x": {"field": "d", "type": "temporal", "title": null,
   "scale": {"domain": [{"year":2007,"month":10,"date":28,"hours":6},{"year":2008,"month":9,"date":11,"hours":4,"minutes":20}], "nice": false},
   "axis": {"orient": "bottom", "title": null, "values": [{"year":2007,"month":12,"date":1},{"year":2008,"month":1,"date":1},{"year":2008,"month":2,"date":1},{"year":2008,"month":3,"date":1},{"year":2008,"month":4,"date":1},{"year":2008,"month":5,"date":1},{"year":2008,"month":6,"date":1},{"year":2008,"month":7,"date":1},{"year":2008,"month":8,"date":1},{"year":2008,"month":9,"date":1}],
     "grid": true, "ticks": true, "tickSize": 30, "tickColor": "#000", "tickWidth": 1,
     "domain": true, "domainColor": "#000", "domainWidth": 1.5,
     "labelExpr": "month(datum.value) == 0 ? timeFormat(datum.value, '%Y') : (month(datum.value) == 8 ? '' : timeFormat(datum.value, '%b'))",
     "labelAlign": "left", "labelBaseline": "alphabetic", "labelPadding": -5, "labelOffset": 4,
     "labelFont": "DejaVu Sans", "labelFontWeight": "bold", "labelFontSize": 22, "labelColor": "#000",
     "labelFlush": false, "labelOverlap": false}},
  "y": {"field": "v", "type": "quantitative", "title": null,
   "scale": {"domain": [-7.93, 111.0], "nice": false, "zero": false},
   "axis": {"orient": "right", "title": null,
     "values": [-4,0,4,8,12,16,20,24,28,32,36,40,44,48,52,56,60,64,68,72,76,80,84,88,92,96,100,104,108],
     "grid": true,
     "gridOpacity": {"condition": {"test": "datum.value % 20 == 0 && datum.value >= 0 && datum.value <= 100", "value": 1}, "value": 0},
     "domainColor": "#000", "domainWidth": 2, "tickColor": "#000", "tickSize": -4, "tickWidth": 1,
     "labelPadding": 8, "labelFont": "DejaVu Sans", "labelFontWeight": "bold", "labelFontSize": 21, "labelColor": "#000",
     "labelExpr": "datum.value == 80 || datum.value == 40 ? datum.label : ''"}},
  "detail": [{"field": "s"}, {"field": "g"}]
 }},
{"data": {"values": [{}]},
 "mark": {"type": "text", "text": "Slow", "font": "DejaVu Sans", "fontWeight": "bold", "fontSize": 23, "align": "left", "baseline": "middle", "color": "#000"},
 "encoding": {
  "x": {"datum": {"year":2008,"month":3,"date":2,"hours":21,"minutes":20}, "type": "temporal", "axis": null},
  "y": {"datum": 96.0, "type": "quantitative", "axis": null}
 }},
{"data": {"values": [{}]},
 "mark": {"type": "text", "text": "Stochastic", "font": "DejaVu Sans", "fontWeight": "bold", "fontSize": 23, "align": "left", "baseline": "middle", "color": "#000"},
 "encoding": {
  "x": {"datum": {"year":2008,"month":3,"date":27,"hours":8,"minutes":30}, "type": "temporal", "axis": null},
  "y": {"datum": 96.0, "type": "quantitative", "axis": null}
 }},
{"data": {"values": [{}]},
 "mark": {"type": "rect", "fill": "#fff", "stroke": "#888", "strokeWidth": 2},
 "encoding": {
  "x": {"datum": {"year":2007,"month":10,"date":27,"hours":22,"minutes":35}, "type": "temporal", "axis": null},
  "x2": {"datum": {"year":2007,"month":12,"date":30,"hours":10}},
  "y": {"datum": 111.0, "type": "quantitative", "axis": null},
  "y2": {"datum": 3.52}
 }},
{"data": {"values": [{}]},
 "mark": {"type": "text", "text": ["%K", "%D", "RSI"], "lineHeight": 27.5, "font": "Liberation Sans", "fontWeight": "bold", "fontSize": 26, "align": "left", "baseline": "alphabetic", "color": "#000"},
 "encoding": {
  "x": {"datum": {"year":2007,"month":10,"date":30,"hours":17,"minutes":30}, "type": "temporal", "axis": null},
  "y": {"datum": 84.3, "type": "quantitative", "axis": null}
 }},
{"data": {"values": [{}]},
 "mark": {"type": "text", "text": ["=", "=", "="], "lineHeight": 27.5, "font": "Liberation Sans", "fontWeight": "bold", "fontSize": 26, "align": "left", "baseline": "alphabetic", "color": "#000"},
 "encoding": {
  "x": {"datum": {"year":2007,"month":11,"date":27,"hours":7}, "type": "temporal", "axis": null},
  "y": {"datum": 84.3, "type": "quantitative", "axis": null}
 }},
{"data": {"values": [{}]},
 "mark": {"type": "text", "text": ["96.97", "91.97", "78.48"], "lineHeight": 27.5, "font": "Liberation Sans", "fontWeight": "bold", "fontSize": 26, "align": "left", "baseline": "alphabetic", "color": "#000"},
 "encoding": {
  "x": {"datum": {"year":2007,"month":12,"date":6,"hours":21}, "type": "temporal", "axis": null},
  "y": {"datum": 84.3, "type": "quantitative", "axis": null}
 }},
{"data": {"values": [{}]},
 "mark": {"type": "text", "text": "9/", "font": "Liberation Sans", "fontWeight": "bold", "fontSize": 26, "align": "left", "baseline": "alphabetic", "color": "#000"},
 "encoding": {
  "x": {"datum": {"year":2007,"month":11,"date":4,"hours":9}, "type": "temporal", "axis": null},
  "y": {"datum": 10.3, "type": "quantitative", "axis": null}
 }},
{"data": {"values": [{}]},
 "mark": {"type": "text", "text": "4/08", "font": "Liberation Sans", "fontWeight": "bold", "fontSize": 26, "align": "left", "baseline": "alphabetic", "color": "#000"},
 "encoding": {
  "x": {"datum": {"year":2007,"month":11,"date":16,"hours":3,"minutes":20}, "type": "temporal", "axis": null},
  "y": {"datum": 10.3, "type": "quantitative", "axis": null}
 }},
{"data": {"values": [{}]},
 "mark": {"type": "text", "text": "Day", "font": "DejaVu Sans", "fontWeight": "bold", "fontSize": 21, "align": "right", "baseline": "alphabetic", "color": "#000", "clip": false},
 "encoding": {
  "x": {"datum": {"year":2008,"month":10,"date":14,"hours":22}, "type": "temporal", "axis": null},
  "y": {"datum": -30.8, "type": "quantitative", "axis": null}
 }},
{"data": {"values": [{}]},
 "mark": {"type": "rule", "color": "#000", "strokeWidth": 3, "clip": false},
 "encoding": {
  "x": {"datum": {"year":2007,"month":10,"date":26,"hours":2}, "type": "temporal", "axis": null},
  "x2": {"datum": {"year":2008,"month":10,"date":17}},
  "y": {"datum": 112.3, "type": "quantitative", "axis": null}
 }},
{"data": {"values": [{}]},
 "mark": {"type": "rule", "color": "#000", "strokeWidth": 2, "clip": false},
 "encoding": {
  "x": {"datum": {"year":2007,"month":10,"date":28,"hours":6}, "type": "temporal", "axis": null},
  "y": {"datum": 111.0, "type": "quantitative", "axis": null},
  "y2": {"datum": -34.7}
 }},
{"data": {"values": [{}]},
 "mark": {"type": "rule", "color": "#000", "strokeWidth": 2, "clip": false},
 "encoding": {
  "x": {"datum": {"year":2008,"month":10,"date":16,"hours":11}, "type": "temporal", "axis": null},
  "y": {"datum": 112.3, "type": "quantitative", "axis": null},
  "y2": {"datum": -34.7}
 }}
]
}
]
}
